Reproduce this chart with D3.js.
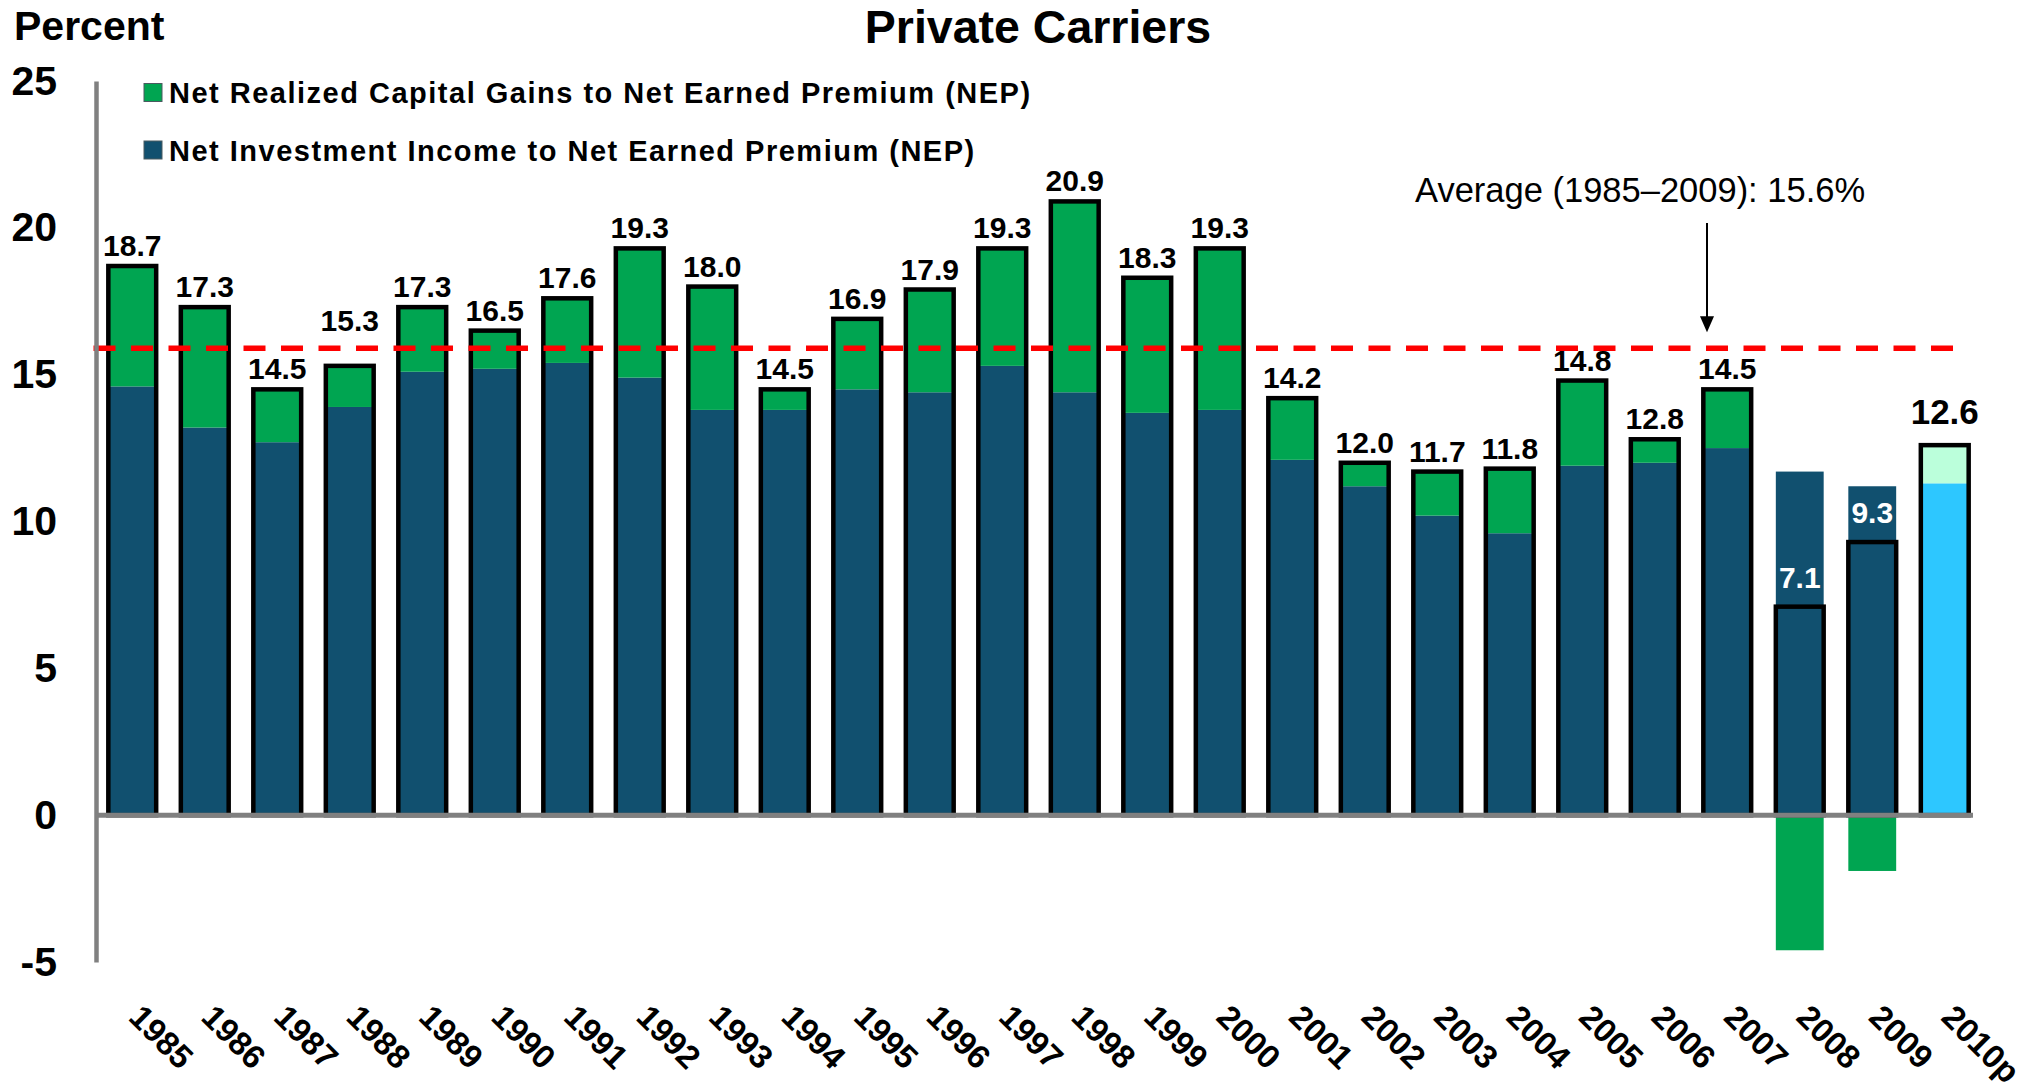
<!DOCTYPE html>
<html>
<head>
<meta charset="utf-8">
<script src="https://cdn.jsdelivr.net/npm/d3@7"></script>
<style>
	body { margin: 0; background: #fff; }
	svg { display: block; font-family: 'Liberation Sans', Arial, sans-serif; }
</style>
</head>
<body>
<div class="content"></div>
<script>
const w = 2035;
const h = 1091;

const years = ['1985', '1986', '1987', '1988', '1989', '1990', '1991', '1992', '1993', '1994',
	'1995', '1996', '1997', '1998', '1999', '2000', '2001', '2002', '2003', '2004',
	'2005', '2006', '2007', '2008', '2009', '2010p'];

// net investment income to NEP
const invIncome = [14.6, 13.2, 12.7, 13.9, 15.1, 15.2, 15.4, 14.9, 13.8, 13.8,
	14.5, 14.4, 15.3, 14.4, 13.7, 13.8, 12.1, 11.2, 10.2, 9.6,
	11.9, 12.0, 12.5, 11.7, 11.2, 11.3];

// net realized capital gains to NEP
const capGains = [4.1, 4.1, 1.8, 1.4, 2.2, 1.3, 2.2, 4.4, 4.2, 0.7,
	2.4, 3.5, 4.0, 6.5, 4.6, 5.5, 2.1, 0.8, 1.5, 2.2,
	2.9, 0.8, 2.0, -4.6, -1.9, 1.3];

const totals = [18.7, 17.3, 14.5, 15.3, 17.3, 16.5, 17.6, 19.3, 18.0, 14.5,
	16.9, 17.9, 19.3, 20.9, 18.3, 19.3, 14.2, 12.0, 11.7, 11.8,
	14.8, 12.8, 14.5, 7.1, 9.3, 12.6];

const yTicks = [-5, 0, 5, 10, 15, 20, 25];
const avgLine = 15.9;

const legendItems = [
	{ label: 'Net Realized Capital Gains to Net Earned Premium (NEP)', color: '#00a551' },
	{ label: 'Net Investment Income to Net Earned Premium (NEP)', color: '#11506f' }
];

const blue = '#11506f';
const green = '#00a551';
const projBlue = '#2dc7ff';
const projGreen = '#bbffdb';
const grey = '#808080';

const data = years.map((d, i) => ({
	year: d,
	inv: invIncome[i],
	gain: capGains[i],
	total: totals[i],
	proj: d.endsWith('p')
}));

const svg = d3.select('.content').append('svg')
	.attr('width', w)
	.attr('height', h);

const xScale = d3.scaleBand()
	.domain(years)
	.range([96, 1981])
	.paddingInner(0.34)
	.paddingOuter(0.17);

const yScale = d3.scaleLinear()
	.domain([-5, 25])
	.range([962, 81]);

// titles
svg.append('text')
	.attr('x', 14)
	.attr('y', 40)
	.style('font-size', '41px')
	.style('font-weight', 'bold')
	.text('Percent');

svg.append('text')
	.attr('x', 1038)
	.attr('y', 43)
	.attr('text-anchor', 'middle')
	.style('font-size', '46.5px')
	.style('font-weight', 'bold')
	.text('Private Carriers');

// bars
const bars = svg.append('g').attr('class', 'bars');

bars.selectAll('rect.inv')
	.data(data)
	.enter()
	.append('rect')
	.attr('class', 'inv')
	.attr('x', (d) => xScale(d.year))
	.attr('width', xScale.bandwidth())
	.attr('y', (d) => yScale(d.inv))
	.attr('height', (d) => yScale(0) - yScale(d.inv))
	.attr('fill', (d) => d.proj ? projBlue : blue);

bars.selectAll('rect.gain')
	.data(data)
	.enter()
	.append('rect')
	.attr('class', 'gain')
	.attr('x', (d) => xScale(d.year))
	.attr('width', xScale.bandwidth())
	.attr('y', (d) => d.gain >= 0 ? yScale(d.inv + d.gain) : yScale(0))
	.attr('height', (d) => Math.abs(yScale(0) - yScale(d.gain)))
	.attr('fill', (d) => d.proj ? projGreen : green);

bars.selectAll('rect.total')
	.data(data)
	.enter()
	.append('rect')
	.attr('class', 'total')
	.attr('x', (d) => xScale(d.year))
	.attr('width', xScale.bandwidth())
	.attr('y', (d) => yScale(d.total))
	.attr('height', (d) => yScale(0) - yScale(d.total))
	.attr('fill', 'none')
	.attr('stroke', '#000')
	.attr('stroke-width', 4.5);

// average line
const avgY = yScale(avgLine);

svg.append('line')
	.attr('x1', 93.5)
	.attr('x2', 1965)
	.attr('y1', avgY)
	.attr('y2', avgY)
	.attr('stroke', '#ff0000')
	.attr('stroke-width', 5.5)
	.attr('stroke-dasharray', '22 15.5');

// value labels, lifted over the average line where they would cross it
function labelY(d) {
	if (d.proj) return yScale(d.total) - 21;
	if (d.gain < 0) return yScale(d.total) - 19;
	const base = yScale(d.total) - 10;
	if (base > avgY && base - 21 < avgY) return avgY - 17;
	return base;
}

svg.append('g').selectAll('text')
	.data(data)
	.enter()
	.append('text')
	.attr('x', (d) => xScale(d.year) + xScale.bandwidth() / 2)
	.attr('y', labelY)
	.attr('text-anchor', 'middle')
	.attr('fill', (d) => d.gain < 0 ? '#fff' : '#000')
	.style('font-size', (d) => d.proj ? '35px' : '30px')
	.style('font-weight', 'bold')
	.text((d) => d.total.toFixed(1));

// axes
const yAxis = svg.append('g')
	.attr('transform', 'translate(96,0)')
	.call(d3.axisLeft(yScale)
		.tickValues(yTicks)
		.tickFormat((d) => String(d))
		.tickSize(0)
		.tickSizeOuter(0)
		.tickPadding(39));

yAxis.select('.domain')
	.attr('stroke', grey)
	.attr('stroke-width', 4.5);

yAxis.selectAll('text')
	.style('font-size', '41px')
	.style('font-weight', 'bold')
	.style('font-family', "'Liberation Sans', Arial, sans-serif")
	.attr('fill', '#000');

svg.append('line')
	.attr('x1', 96)
	.attr('x2', 1973)
	.attr('y1', yScale(0))
	.attr('y2', yScale(0))
	.attr('stroke', grey)
	.attr('stroke-width', 5);

const xAxis = svg.append('g')
	.attr('transform', 'translate(14,1003)')
	.call(d3.axisBottom(xScale).tickSize(0).tickPadding(0));

xAxis.select('.domain').remove();

xAxis.selectAll('text')
	.attr('x', -2)
	.attr('y', 0)
	.attr('dy', '0.75em')
	.attr('text-anchor', 'start')
	.attr('transform', 'rotate(45)')
	.attr('fill', '#000')
	.style('font-size', '33px')
	.style('font-weight', 'bold')
	.style('font-family', "'Liberation Sans', Arial, sans-serif");

// legend
const legend = svg.append('g').attr('id', 'legend');

legendItems.forEach((item, i) => {
	legend.append('rect')
		.attr('x', 144)
		.attr('y', 83.5 + i * 57.5)
		.attr('width', 18)
		.attr('height', 18)
		.attr('fill', item.color)
		.attr('stroke', '#4a5a60')
		.attr('stroke-width', 1);

	legend.append('text')
		.attr('x', 169)
		.attr('y', 103 + i * 57.5)
		.style('font-size', '29px')
		.style('font-weight', 'bold')
		.style('letter-spacing', '1.5px')
		.text(item.label);
});

// average annotation
svg.append('text')
	.attr('x', 1415)
	.attr('y', 202)
	.style('font-size', '34.5px')
	.text('Average (1985\u20132009): 15.6%');

const arrowX = 1707;
const arrowTip = avgY - 16;

svg.append('line')
	.attr('x1', arrowX)
	.attr('x2', arrowX)
	.attr('y1', 223)
	.attr('y2', arrowTip - 10)
	.attr('stroke', '#000')
	.attr('stroke-width', 2);

svg.append('path')
	.attr('d', `M${arrowX - 7},${arrowTip - 16}L${arrowX + 7},${arrowTip - 16}L${arrowX},${arrowTip}Z`)
	.attr('fill', '#000');
</script>
</body>
</html>
